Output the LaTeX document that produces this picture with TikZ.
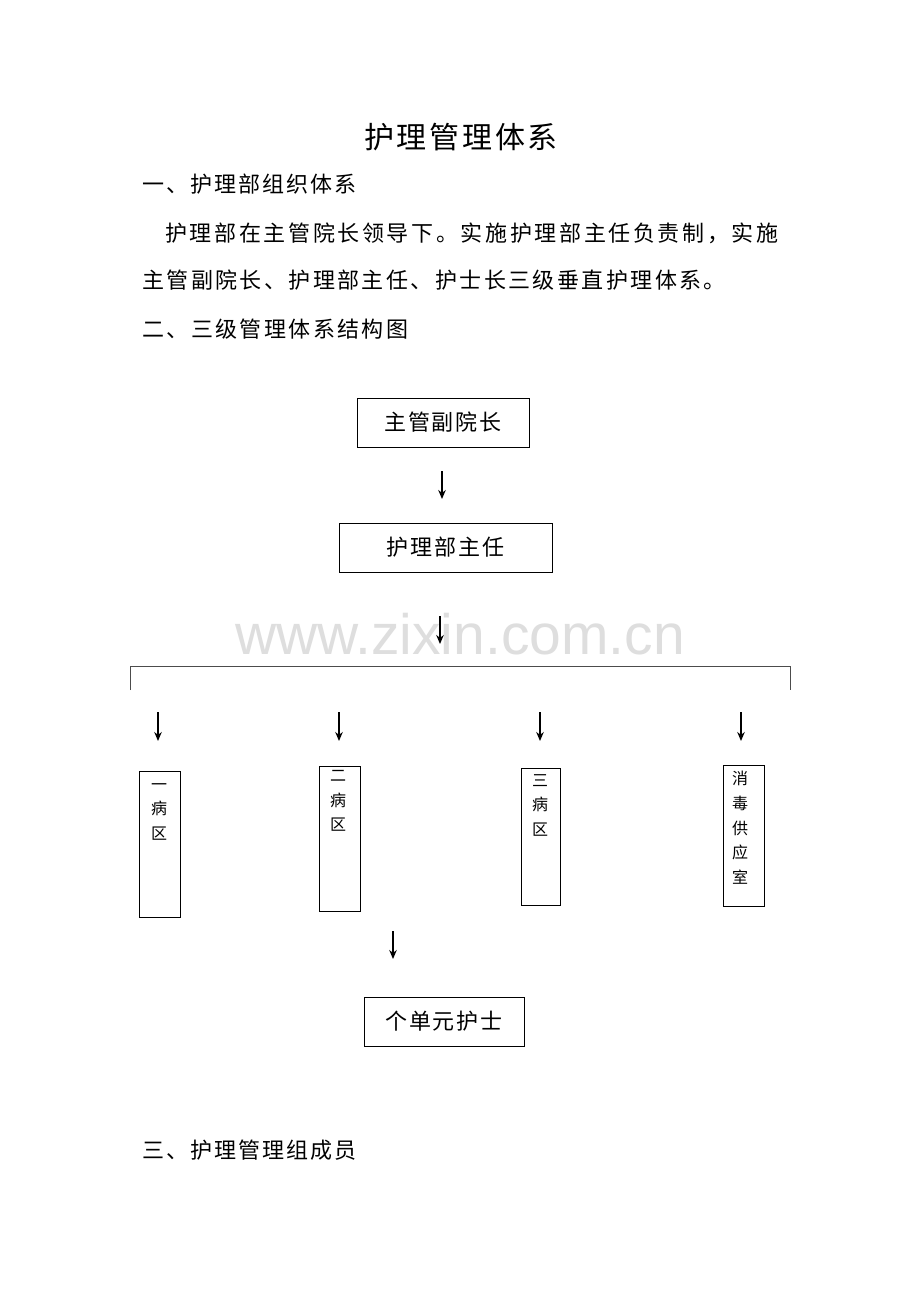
\documentclass[tikz,border=0pt]{standalone}
\usepackage{fontspec}
\setmainfont{Noto Sans CJK SC}
\newfontfamily\bodyfont[LetterSpace=9]{Noto Sans CJK SC}
\newfontfamily\midfont[LetterSpace=11]{Noto Sans CJK SC}
\newfontfamily\widefont[LetterSpace=12]{Noto Sans CJK SC}
\newfontfamily\wmfont{Liberation Sans}
\usetikzlibrary{arrows.meta}
\tikzset{
  txt/.style={anchor=west,inner sep=0pt,font=\bodyfont\fontsize{22}{26}\selectfont},
  box/.style={draw,line width=0.8pt,inner sep=0pt,font=\bodyfont\fontsize{22}{26}\selectfont},
  vbox/.style={draw,line width=0.8pt,inner sep=0pt,minimum width=41pt},
  vtxt/.style={anchor=north,inner sep=0pt,align=center,font=\fontsize{16}{24.7}\selectfont},
  arr/.style={line width=1.3pt,-{Stealth[length=9pt,width=7.5pt]}},
  brk/.style={line width=0.7pt,draw=black!70}
}
\begin{document}
\begin{tikzpicture}[x=1pt,y=-1pt]
\useasboundingbox (0,0) rectangle (920,1302);
\fill[white] (0,0) rectangle (920,1302);
% watermark
\node[inner sep=0pt,text=black!13,font=\wmfont\fontsize{57}{60}\selectfont] (wm) at (460,634) {www.zixin.com.cn};
% title and text
\node[inner sep=0pt,font=\bodyfont\fontsize{30}{34}\selectfont] (title) at (461,137) {护理管理体系};
\node[txt] (h1) at (142,184) {一、护理部组织体系};
\node[txt,font=\widefont\fontsize{22}{26}\selectfont] (p1) at (165,233) {护理部在主管院长领导下。实施护理部主任负责制，实施};
\node[txt,font=\midfont\fontsize{22}{26}\selectfont] (p2) at (142,280) {主管副院长、护理部主任、护士长三级垂直护理体系。};
\node[txt,font=\midfont\fontsize{22}{26}\selectfont] (h2) at (142,329) {二、三级管理体系结构图};
\node[txt] (h3) at (142,1150) {三、护理管理组成员};
% chart
\node[box,minimum width=172pt,minimum height=49pt] (vp) at (443,422.5) {主管副院长};
\node[box,minimum width=213pt,minimum height=49pt] (dir) at (445.5,547.5) {护理部主任};
\coordinate (a1s) at (442,471); \coordinate (a1e) at (442,499);
\draw[arr] (a1s) -- (a1e);
\coordinate (a2s) at (440,616); \coordinate (a2e) at (440,644);
\draw[arr] (a2s) -- (a2e);
% bracket
\coordinate (bl) at (130,690); \coordinate (blt) at (130,666);
\coordinate (brt) at (790,666); \coordinate (br) at (790,690);
\draw[brk] (bl) -- (blt) -- (brt) -- (br);
% branch arrows
\foreach \n/\x in {b1/158,b2/339,b3/540,b4/741}{
  \coordinate (\n s) at (\x,712);
  \coordinate (\n e) at (\x,741);
  \draw[arr] (\n s) -- (\n e);
}
% vertical boxes
\node[vbox,minimum height=146pt] (w1) at (159.5,844) {};
\node[vtxt] (t1) at (159,783) {一\\病\\区};
\node[vbox,minimum height=145pt] (w2) at (339.5,838.5) {};
\node[vtxt] (t2) at (338,770) {二\\病\\区};
\node[vbox,minimum height=137pt,minimum width=39pt] (w3) at (540.5,836.5) {};
\node[vtxt] (t3) at (540,774) {三\\病\\区};
\node[vbox,minimum height=141pt] (w4) at (743.5,835.5) {};
\node[vtxt] (t4) at (740,771) {消\\毒\\供\\应\\室};
% bottom
\coordinate (a3s) at (393,931); \coordinate (a3e) at (393,959);
\draw[arr] (a3s) -- (a3e);
\node[box,minimum width=160pt,minimum height=49pt] (nurse) at (444,1021.5) {个单元护士};
\end{tikzpicture}
\end{document}
